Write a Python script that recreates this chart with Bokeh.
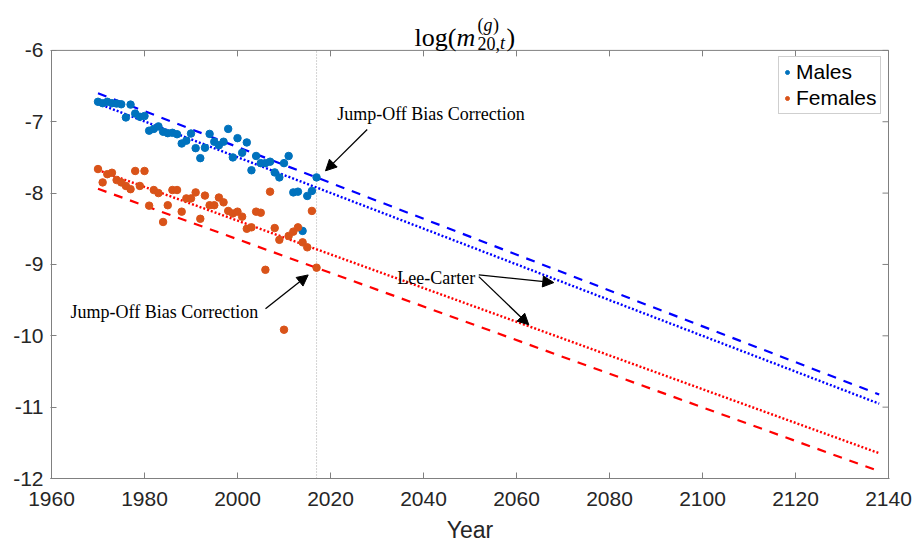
from bokeh.plotting import figure
from bokeh.models import (Range1d, FixedTicker, Label, Arrow,
                          NormalHead, Legend, LegendItem)
from bokeh.embed import file_html
from bokeh.resources import INLINE

# ---------------- data ----------------
years = list(range(1970, 2018))
males = [-6.72, -6.74, -6.72, -6.74, -6.745, -6.755, -6.94, -6.76, -6.885, -6.93,
         -6.92, -7.125, -7.10, -7.065, -7.14, -7.16, -7.155, -7.175, -7.305, -7.265,
         -7.165, -7.37, -7.51, -7.365, -7.17, -7.28, -7.33, -7.28, -7.10, -7.50,
         -7.23, -7.435, -7.29, -7.68, -7.48, -7.58, -7.58, -7.56, -7.71, -7.78,
         -7.58, -7.48, -7.99, -7.98, -8.53, -8.04, -7.97, -7.78]
females = [-7.663, -7.85, -7.735, -7.715, -7.817, -7.85, -7.90, -7.945, -7.69, -7.90,
           -7.69, -8.176, -7.957, -8.00, -8.405, -8.170, -7.957, -7.957, -8.26, -8.074,
           -8.074, -7.99, -8.36, -8.035, -8.170, -8.170, -8.062, -8.13, -8.25, -8.285,
           -8.26, -8.33, -8.50, -8.48, -8.26, -8.275, -9.075, -7.98, -8.49, -8.655,
           -9.915, -8.60, -8.54, -8.48, -8.69, -8.76, -8.25, -9.045]

proj_years = [1970, 2138]
male_jump_off = [-6.60, -10.822]
male_lee_carter = [-6.745, -10.952]
female_lee_carter = [-7.677, -11.646]
female_jump_off = [-7.94, -11.898]

x_ticks = [1960, 1980, 2000, 2020, 2040, 2060, 2080, 2100, 2120, 2140]
y_ticks = [-12, -11, -10, -9, -8, -7, -6]
y_tick_labels = ["-12", "-11", "-10", "-9", "-8", "-7", "-6"]
jump_off_year = 2017

series_labels = ["Males", "Females"]
annot_jump_off = "Jump-Off Bias Correction"
annot_lee_carter = "Lee-Carter"
x_label = "Year"

# ---------------- geometry / styling ----------------
MALE_C = "#0072BD"
FEMALE_C = "#D95319"
AX_C = "#808080"
TXT_C = "#262626"
SANS = "Liberation Sans"
SERIF = "Liberation Serif"

X0, X1 = 1960, 2140          # axes box limits
Y0, Y1 = -12, -6
BOX_L, BOX_R, BOX_T, BOX_B = 51, 888, 50, 479   # axes box in page pixels
XPP = (X1 - X0) / (BOX_R - BOX_L)   # data per pixel
YPP = (Y1 - Y0) / (BOX_B - BOX_T)

# the plotting frame spans the whole height above the x axis (so the title can
# live inside it) and 1 px beyond the box left/right so the border is not clipped
x_range = Range1d(X0 - XPP, X1 + XPP)
y_range = Range1d(Y0, Y1 + BOX_T * YPP)

p = figure(width=917, height=545, output_backend="svg", toolbar_location=None,
           x_range=x_range, y_range=y_range,
           min_border_left=BOX_L - 1, min_border_right=917 - BOX_R - 1,
           min_border_top=0, min_border_bottom=545 - BOX_B,
           background_fill_color="white", border_fill_color="white")
p.title = None
p.grid.visible = False
p.outline_line_color = None

for ax in (p.xaxis[0], p.yaxis[0]):
    ax.major_tick_line_color = AX_C
    ax.major_tick_in = 6
    ax.major_tick_out = 0
    ax.minor_tick_line_color = None
    ax.major_label_text_font = SANS
    ax.major_label_text_font_size = "21px"
    ax.major_label_text_color = TXT_C
p.xaxis.axis_line_color = AX_C
p.yaxis.axis_line_color = None

p.xaxis.ticker = FixedTicker(ticks=x_ticks)
p.yaxis.ticker = FixedTicker(ticks=y_ticks)
p.yaxis.major_label_overrides = dict(zip(y_ticks, y_tick_labels))
p.xaxis.major_label_standoff = 13
p.yaxis.major_label_standoff = 7
p.xaxis.axis_label = x_label
p.xaxis.axis_label_text_font = SANS
p.xaxis.axis_label_text_font_size = "23px"
p.xaxis.axis_label_text_font_style = "normal"
p.xaxis.axis_label_text_color = TXT_C
p.xaxis.axis_label_standoff = 8

# axes box (left, top, right edges) and mirrored ticks
p.segment(x0=[X0, X0, X1], y0=[Y0, Y1, Y0], x1=[X0, X1, X1], y1=[Y1, Y1, Y1],
          line_color=AX_C, line_width=1)
p.segment(x0=x_ticks, y0=[Y1] * len(x_ticks), x1=x_ticks,
          y1=[Y1 - 6 * YPP] * len(x_ticks), line_color=AX_C, line_width=1)
p.segment(x0=[X1] * len(y_ticks), y0=y_ticks, x1=[X1 - 6 * XPP] * len(y_ticks),
          y1=y_ticks, line_color=AX_C, line_width=1)

# vertical jump-off line
p.segment(x0=[jump_off_year], y0=[Y0], x1=[jump_off_year], y1=[Y1],
          line_color="#a8a8a8", line_width=1, line_dash="1 2")

# projection lines
p.line(proj_years, male_jump_off, line_color="#0000FF", line_width=2.2, line_dash="9 8")
p.line(proj_years, male_lee_carter, line_color="#0000FF", line_width=2.4, line_dash="2 2")
p.line(proj_years, female_lee_carter, line_color="#FF0000", line_width=2.4, line_dash="2 2")
p.line(proj_years, female_jump_off, line_color="#FF0000", line_width=2.2, line_dash="9 8")

# scatter points
r_m = p.scatter(years, males, size=7.5, fill_color=MALE_C, line_color=MALE_C)
r_f = p.scatter(years, females, size=7.5, fill_color=FEMALE_C, line_color=FEMALE_C)

legend = Legend(items=[LegendItem(label=series_labels[0], renderers=[r_m]),
                       LegendItem(label=series_labels[1], renderers=[r_f])],
                location=(778 - (BOX_L - 1), BOX_B - 115))
legend.label_text_font = SANS
legend.label_text_font_size = "21px"
legend.label_text_color = "black"
legend.glyph_width = 10
legend.glyph_height = 24
legend.label_height = 24
legend.label_standoff = 4
legend.spacing = 2
legend.padding = 3
legend.margin = 0
legend.border_line_color = "#a0a0a0"
legend.border_line_width = 1
legend.background_fill_color = "white"
legend.background_fill_alpha = 1
p.add_layout(legend)


# helpers: page pixel positions -> data coordinates (annotation placement only)
def px2x(px):
    return X0 + (px - BOX_L) * XPP


def py2y(py):
    return Y1 - (py - BOX_T) * YPP


# text annotations
for txt, lx, ly in [(annot_jump_off, 336.7, 113.5), (annot_lee_carter, 396.7, 278.5),
                    (annot_jump_off, 70.0, 311.7)]:
    p.add_layout(Label(x=px2x(lx), y=py2y(ly), text=txt, text_font=SERIF,
                       text_font_size="18px", text_color="black",
                       text_baseline="middle", text_align="left"))

# arrows
for (x0, y0, x1, y1) in [(366.7, 129.3, 325.0, 170.7), (265.0, 309.0, 307.7, 275.0),
                         (478.3, 275.0, 553.3, 282.7), (478.3, 276.7, 528.3, 325.0)]:
    p.add_layout(Arrow(end=NormalHead(size=11, fill_color="black", line_color="black"),
                       x_start=px2x(x0), y_start=py2y(y0), x_end=px2x(x1), y_end=py2y(y1),
                       line_color="black", line_width=1.3))

# title: log(m^{(g)}_{20,t})
title_parts = [
    ("log(", 414.0, 37.0, "26px", "normal"),
    ("m", 456.0, 37.0, "26px", "italic"),
    ("(", 477.0, 25.0, "18px", "normal"),
    ("g", 483.0, 25.0, "18px", "italic"),
    (")", 492.5, 25.0, "18px", "normal"),
    ("20,", 477.0, 43.0, "18px", "normal"),
    ("t", 499.5, 43.0, "18px", "italic"),
    (")", 506.0, 37.0, "26px", "normal"),
]
for txt, lx, ly, fs, st in title_parts:
    p.add_layout(Label(x=px2x(lx), y=py2y(ly), text=txt, text_font=SERIF,
                       text_font_size=fs, text_font_style=st, text_color="black",
                       text_baseline="alphabetic", text_align="left"))

open("out.html", "w").write(file_html(p, INLINE))
